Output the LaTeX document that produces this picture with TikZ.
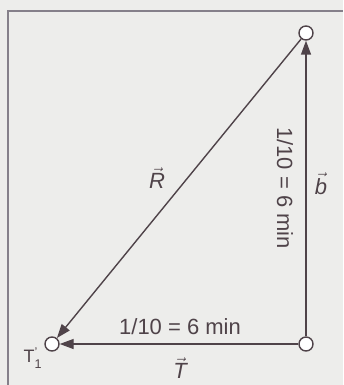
\documentclass[tikz,border=0pt]{standalone}
\usepackage{amsmath}
\usepackage{fontspec}
\setmainfont{Liberation Sans}
\usetikzlibrary{arrows.meta}
\definecolor{ink}{HTML}{4F4349}
\definecolor{paper}{HTML}{EDEDEB}
\definecolor{rim}{HTML}{85808A}
\newcommand{\vecit}[1]{$\vec{\text{\itshape #1}}$}

\begin{document}
\begin{tikzpicture}[x=1pt,y=-1pt,
    stn/.style={circle,draw=ink,line width=1.4pt,fill=white,minimum size=14pt,inner sep=0pt},
    vecarrow/.style={draw=ink,line width=1.4pt,-{Triangle[length=14pt,width=10pt]}},
    lbl/.style={text=ink,font=\fontsize{22}{24}\selectfont}]
                    \fill[paper] (0,0) rectangle (343,385);
                    \useasboundingbox (0,0) rectangle (343,385);
                    \draw[rim,line width=1.5pt] (8,385)--(8,11)--(343,11);
                    \node[stn] (top) at (306,33) {};
                    \node[stn] (corner) at (306,344) {};
                    \node[stn] (T1) at (52,344) {};
                    \draw[vecarrow] (corner)--(top);
                    \draw[vecarrow] (corner)--(T1);
                    \draw[vecarrow] (top)--(T1);
                    \node[lbl,rotate=-90] (tb) at (285,188) {1/10 = 6 min};
                    \node[lbl] (tt) at (180,327) {1/10 = 6 min};
                    \node[lbl] (vb) at (321,184) {\vecit{b}};
                    \node[lbl] (vr) at (157,178) {\vecit{R}};
                    \node[lbl] (vt) at (180,368) {\vecit{T}};
                    \node[lbl,font=\fontsize{18}{20}\selectfont] (nt) at (33,358) {T$_{\text{1}}^{\text{'}}$};
                \end{tikzpicture}
\end{document}
